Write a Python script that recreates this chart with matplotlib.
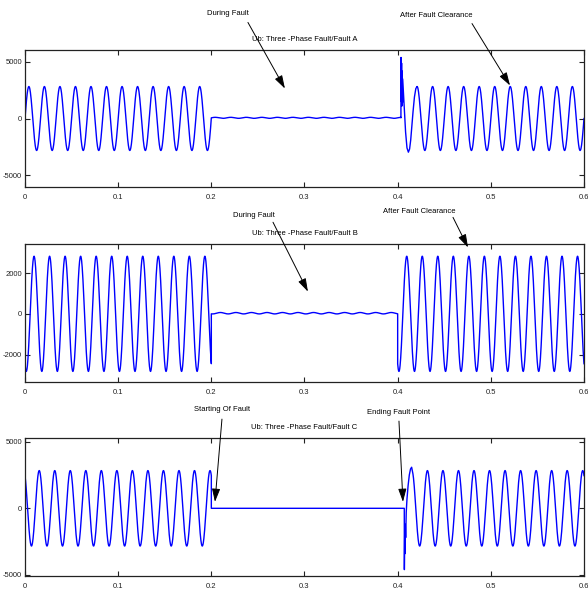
import numpy as np
import matplotlib
matplotlib.use("Agg")
import matplotlib.pyplot as plt

plt.rcParams['font.family'] = ['Liberation Sans', 'DejaVu Sans']

"""Values read off the reference picture"""
freq = 60.0                      # Hz, 12 cycles between 0 and 0.2 s
amplitude = 2830.0               # steady peak of Ub
panel_names = ['A', 'B', 'C']
phase_deg = [0.0, -120.0, 120.0]
fault_start = [0.2, 0.2, 0.2]
fault_clear = [0.4035, 0.400, 0.4071]
fault_level = [60.0, 30.0, 0.0]  # small residual voltage during the fault
fault_ripple = [45.0, 35.0, 0.0]

# transient right after clearing (time s, value V)
trans_a_t = [0.4035, 0.4036, 0.4039, 0.4042, 0.4045, 0.4048, 0.4051, 0.4054, 0.4058, 0.4070,
             0.4085, 0.4100, 0.4115, 0.4128, 0.4140, 0.4152, 0.4165, 0.4180, 0.4195, 0.4208]
trans_a_v = [60, 5400, 1500, 4900, 1100, 4200, 1400, 3500, 2900, 1200,
             -1200, -2600, -2980, -2700, -1900, -700, 600, 1900, 2650, 2830]
trans_c_t = [0.4071, 0.4072, 0.4076, 0.4079, 0.4082, 0.4086, 0.4092, 0.4100, 0.4112, 0.4125,
             0.4138, 0.4150, 0.4162]
trans_c_v = [0, -4600, -1600, -3400, -1200, -2200, -300, 700, 1700, 2500, 2950, 3080, 2680]
trans_t = [trans_a_t, None, trans_c_t]
trans_v = [trans_a_v, None, trans_c_v]

ylims = [(-6060, 6060), (-3350, 3430), (-5100, 5250)]
yticks = [[-5000, 0, 5000], [-2000, 0, 2000], [-5000, 0, 5000]]
xticks = [0, 0.1, 0.2, 0.3, 0.4, 0.5, 0.6]
xtick_labels = ['0', '0.1', '0.2', '0.3', '0.4', '0.5', '0.6']

# (label, text pos, arrow tail, arrow head) in data coords
notes = [
    [('During Fault', (0.218, 9290), (0.2393, 8500), (0.279, 2650)),
     ('After Fault Clearance', (0.441, 9120), (0.4798, 8400), (0.5206, 2920))],
    [('During Fault', (0.2458, 4840), (0.2662, 4500), (0.3037, 1090)),
     ('After Fault Clearance', (0.4229, 5040), (0.4594, 4740), (0.4755, 3260))],
    [('Starting Of Fault', (0.2114, 7375), (0.2114, 6690), (0.2039, 480)),
     ('Ending Fault Point', (0.4014, 7150), (0.4014, 6540), (0.4057, 480))],
]

dt = 2e-4
w = 2 * np.pi * freq


def steady(t, ph):
    return amplitude * np.sin(w * t + np.deg2rad(ph))


def build_signal(i):
    ph = phase_deg[i]
    t1 = np.arange(0, fault_start[i], dt)
    t1 = np.append(t1, fault_start[i])
    v1 = steady(t1, ph)
    t2 = np.arange(fault_start[i], fault_clear[i], dt)
    t2 = np.append(t2, fault_clear[i])
    v2 = fault_level[i] + fault_ripple[i] * np.sin(w * t2 + np.deg2rad(ph))
    if trans_t[i] is not None:
        tt = np.array(trans_t[i])
        tv = np.array(trans_v[i], dtype=float)
        t3 = np.arange(tt[-1], 0.6 + dt / 2, dt)
        v3 = steady(t3, ph)
        t_all = np.concatenate([t1, t2, tt, t3])
        v_all = np.concatenate([v1, v2, tv, v3])
    else:
        t3 = np.arange(fault_clear[i], 0.6 + dt / 2, dt)
        v3 = steady(t3, ph)
        t_all = np.concatenate([t1, t2, t3])
        v_all = np.concatenate([v1, v2, v3])
    return t_all, v_all


fig = plt.figure(figsize=(5.88, 5.94), dpi=100)
axes_pos = [[0.0425, 0.6852, 0.9507, 0.2306],
            [0.0425, 0.3569, 0.9507, 0.2323],
            [0.0425, 0.0298, 0.9507, 0.2323]]

for i in range(3):
    ax = fig.add_axes(axes_pos[i])
    t, v = build_signal(i)
    ax.plot(t, v, color='#0000ff', lw=1.0)
    ax.set_xlim(0, 0.6)
    ax.set_ylim(*ylims[i])
    ax.set_xticks(xticks)
    ax.set_xticklabels(xtick_labels)
    ax.set_yticks(yticks[i])
    ax.set_yticklabels([str(y) for y in yticks[i]])
    ax.tick_params(direction='in', top=True, right=True, length=3.5, width=0.8,
                   labelsize=5.5, colors='#222222')
    ax.tick_params(axis='x', pad=5)
    ax.tick_params(axis='y', pad=2)
    for s in ax.spines.values():
        s.set_color('#222222')
        s.set_linewidth(0.9)
    ax.set_title('Ub: Three -Phase Fault/Fault ' + panel_names[i], fontsize=5.5, pad=6.5)
    for label, txt, tail, head in notes[i]:
        ax.text(txt[0], txt[1], label, fontsize=5.5, ha='center', va='center',
                clip_on=False)
        ax.annotate('', xy=head, xytext=tail, annotation_clip=False,
                    arrowprops=dict(arrowstyle='-|>,head_length=0.8,head_width=0.25',
                                    color='black', lw=0.7, mutation_scale=10,
                                    shrinkA=0, shrinkB=0))

plt.savefig("out.png", dpi=100)
